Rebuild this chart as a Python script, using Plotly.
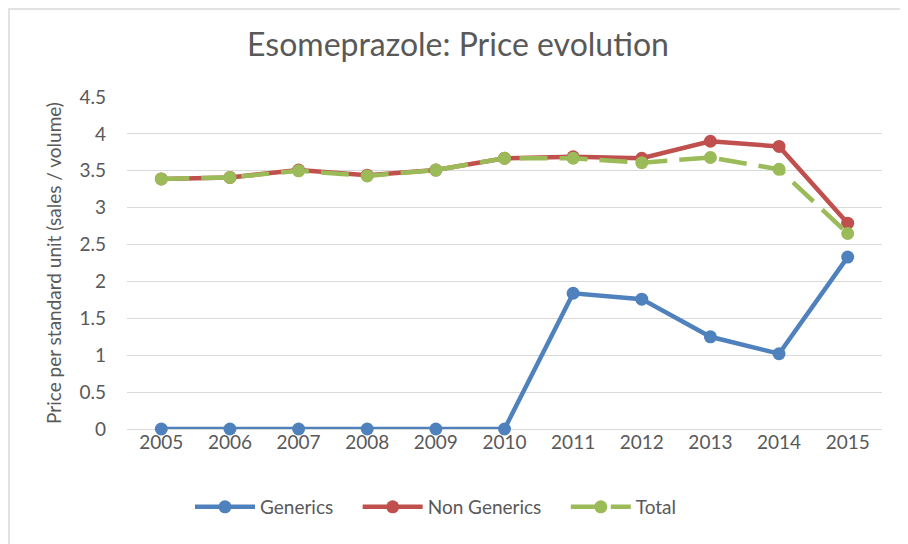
import plotly.graph_objects as go

years = ["2005", "2006", "2007", "2008", "2009", "2010", "2011", "2012", "2013", "2014", "2015"]
generics = [0, 0, 0, 0, 0, 0, 1.84, 1.76, 1.25, 1.02, 2.33]
non_generics = [3.39, 3.41, 3.51, 3.44, 3.51, 3.67, 3.69, 3.67, 3.90, 3.83, 2.79]
total = [3.39, 3.41, 3.50, 3.43, 3.51, 3.67, 3.67, 3.61, 3.68, 3.52, 2.65]

FONT = "Lato, 'Open Sans', sans-serif"
GREY = "#595959"
PAD = "\u00a0" * 4

fig = go.Figure()
fig.add_trace(go.Scatter(x=years, y=generics, mode="lines+markers", name="Generics" + PAD,
                         line=dict(color="#4F81BD", width=4.5),
                         marker=dict(size=13, color="#4F81BD"), cliponaxis=False))
fig.add_trace(go.Scatter(x=years, y=non_generics, mode="lines+markers", name="Non Generics" + PAD,
                         line=dict(color="#C0504D", width=4.5),
                         marker=dict(size=13, color="#C0504D"), cliponaxis=False))
fig.add_trace(go.Scatter(x=years, y=total, mode="lines+markers", name="Total",
                         line=dict(color="#9BBB59", width=4.5, dash="28px,12px"),
                         marker=dict(size=13, color="#9BBB59"), cliponaxis=False))

# page body adds an 8px offset, so the figure is 900x536
fig.update_layout(
    width=900, height=536,
    paper_bgcolor="white", plot_bgcolor="white",
    margin=dict(l=119, r=26, t=89, b=115),
    title=dict(text="Esomeprazole: Price evolution", x=0.5, xanchor="center",
               y=0.931, yanchor="middle",
               font=dict(family=FONT, size=32, color=GREY)),
    font=dict(family=FONT, size=19, color=GREY),
    xaxis=dict(type="category", range=[-0.5, 10.5], showgrid=False, showline=False,
               ticks="", automargin=False, tickfont=dict(size=19, color=GREY)),
    yaxis=dict(range=[0, 4.5], dtick=0.5, showgrid=True, gridcolor="#D9D9D9", gridwidth=1.3,
               zeroline=True, zerolinecolor="#D9D9D9", zerolinewidth=1.3,
               showline=False, ticks="", automargin=False, ticklabelstandoff=20,
               title=dict(text="Price per standard unit (sales / volume)",
                          font=dict(size=19, color=GREY), standoff=12),
               tickfont=dict(size=19, color=GREY)),
    legend=dict(orientation="h", x=(190 - 127) / 755, xanchor="left", y=-0.235, yanchor="middle",
                font=dict(size=19, color=GREY), itemwidth=60),
    shapes=[dict(type="rect", xref="paper", yref="paper", x0=-118 / 755, x1=1.2,
                 y0=-0.5, y1=1 + 88 / 332,
                 line=dict(color="#D9D9D9", width=1.5))],
)

fig.write_html("out.html")
